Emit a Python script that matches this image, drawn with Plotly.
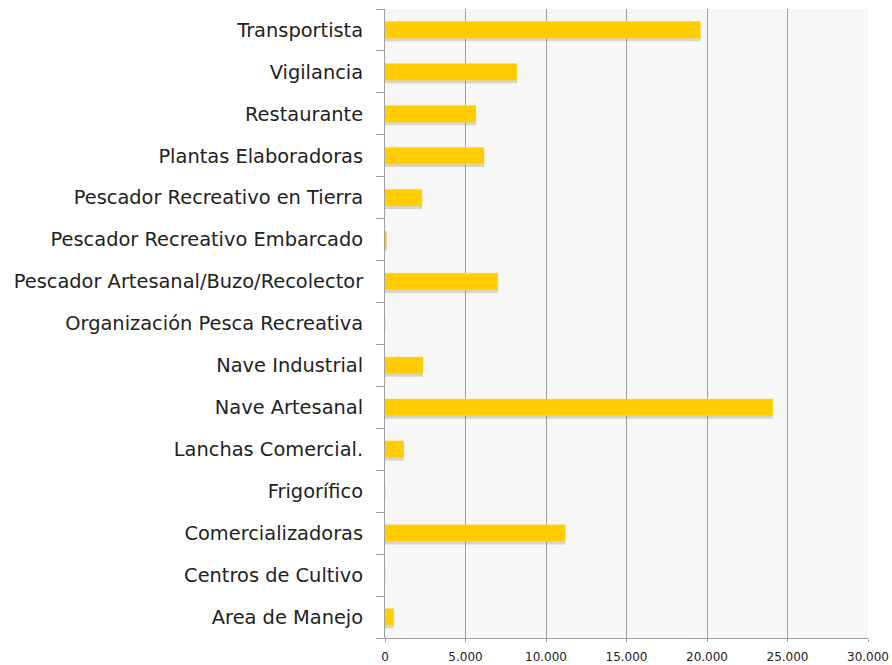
import plotly.graph_objects as go

# categories listed bottom to top, as plotted
categories = [
    "Area de Manejo",
    "Centros de Cultivo",
    "Comercializadoras",
    "Frigorífico",
    "Lanchas Comercial.",
    "Nave Artesanal",
    "Nave Industrial",
    "Organización Pesca Recreativa",
    "Pescador Artesanal/Buzo/Recolector",
    "Pescador Recreativo Embarcado",
    "Pescador Recreativo en Tierra",
    "Plantas Elaboradoras",
    "Restaurante",
    "Vigilancia",
    "Transportista",
]
values = [540, 0, 11200, 0, 1160, 24100, 2360, 0, 7000, 100, 2300, 6150, 5650, 8200, 19600]

x_ticks = [0, 5000, 10000, 15000, 20000, 25000, 30000]
x_tick_labels = ["0", "5.000", "10.000", "15.000", "20.000", "25.000", "30.000"]

fig = go.Figure()

# soft drop shadow under each bar
fig.add_trace(go.Bar(
    y=categories,
    x=values,
    orientation="h",
    width=0.4,
    offset=-0.27,
    marker=dict(color="rgba(90,90,90,0.22)", line=dict(width=0)),
    hoverinfo="skip",
    showlegend=False,
))

fig.add_trace(go.Bar(
    y=categories,
    x=values,
    orientation="h",
    width=0.4,
    offset=-0.2,
    marker=dict(color="#FFCC00", line=dict(color="#FFD84A", width=0.5)),
    showlegend=False,
))

fig.update_layout(
    width=892,
    height=665,
    barmode="overlay",
    paper_bgcolor="white",
    plot_bgcolor="#F7F7F7",
    margin=dict(l=385, r=24, t=9, b=27, autoexpand=False),
    font=dict(family="DejaVu Sans", color="#222222"),
)

fig.update_xaxes(
    range=[0, 30000],
    tickvals=x_ticks,
    ticktext=x_tick_labels,
    tickfont=dict(size=12, color="#222222"),
    showgrid=True,
    gridcolor="#A0A0A0",
    gridwidth=1,
    showline=True,
    linecolor="#A0A0A0",
    ticks="outside",
    ticklen=3,
    tickcolor="#A0A0A0",
    ticklabelstandoff=5,
    zeroline=False,
    automargin=False,
    fixedrange=True,
)

fig.update_yaxes(
    categoryorder="array",
    categoryarray=categories,
    tickfont=dict(size=19.4, color="#222222"),
    showgrid=False,
    showline=True,
    linecolor="#A0A0A0",
    ticks="outside",
    tickson="boundaries",
    ticklen=8,
    tickcolor="#A0A0A0",
    ticklabelstandoff=17,
    automargin=False,
    fixedrange=True,
)

# drop the default body margin so the figure fills the window exactly
fig.write_html(
    "out.html",
    config={"displayModeBar": False},
    post_script="document.body.style.margin='0';",
)
